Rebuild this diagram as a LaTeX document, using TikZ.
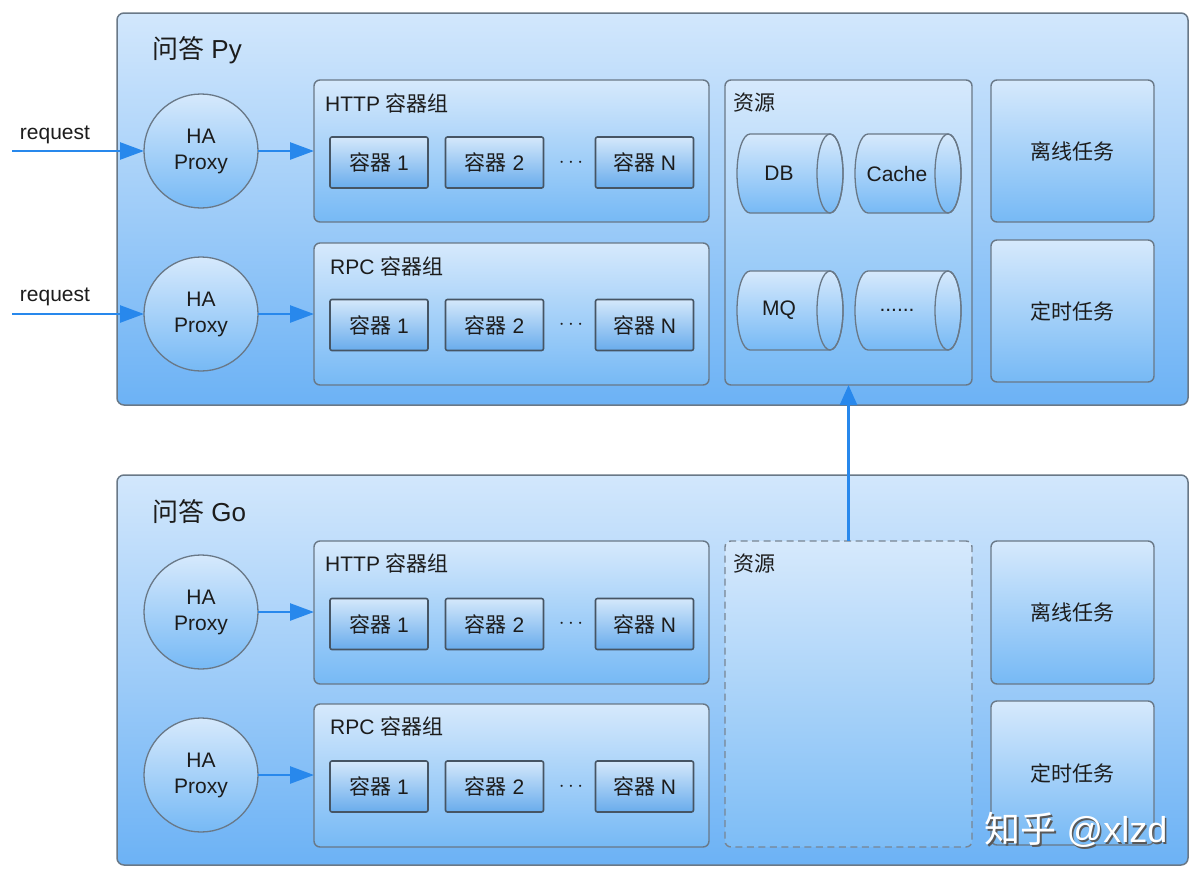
\documentclass[tikz,border=0pt]{standalone}
\usepackage{fontspec}
\setmainfont{Liberation Sans}
\newfontfamily\cjk{Noto Sans CJK SC}
\usetikzlibrary{arrows.meta,shapes.geometric}
\definecolor{boxtop}{RGB}{210,231,252}
\definecolor{boxbot}{RGB}{108,178,245}
\definecolor{grptop}{RGB}{214,233,252}
\definecolor{grpbot}{RGB}{118,185,245}
\definecolor{ctrtop}{RGB}{212,232,251}
\definecolor{ctrbot}{RGB}{105,172,236}
\definecolor{bordc}{RGB}{105,120,135}
\definecolor{bordd}{RGB}{70,85,100}
\definecolor{txtc}{RGB}{28,28,28}
\definecolor{arrc}{RGB}{40,136,236}
\newcommand\zh[1]{{\cjk #1}}
\newcommand\fsz[1]{\fontsize{#1}{26}\selectfont}
\newcommand\cyl[4]{%
  \path[draw=bordc,line width=1.3pt,top color=grptop,bottom color=grpbot]
    (#2-40,#3-39.5) -- (#2+40,#3-39.5)
    arc[start angle=-90,end angle=90,x radius=13,y radius=39.5]
    -- (#2-40,#3+39.5)
    arc[start angle=90,end angle=270,x radius=13,y radius=39.5] -- cycle;
  \draw[bordc,line width=1.3pt] (#2+40,#3) ellipse[x radius=13,y radius=39.5];
  \node[txt] (#1) at (#2-11,#3) {#4};
}
\begin{document}
\begin{tikzpicture}[x=1pt,y=-1pt,
  txt/.style={text=txtc,font=\fsz{21},inner sep=0pt},
  lbl/.style={txt,anchor=west},
  outer/.style={draw=bordc,line width=1.5pt,rounded corners=7pt,top color=boxtop,bottom color=boxbot,minimum width=1071pt,inner sep=0pt,outer sep=0pt},
  grp/.style={draw=bordc,line width=1.4pt,rounded corners=6pt,top color=grptop,bottom color=grpbot,minimum width=395pt,inner sep=0pt,outer sep=0pt},
  res/.style={grp,minimum width=247pt},
  task/.style={grp,minimum width=163pt,txt},
  ctr/.style={draw=bordd,line width=1.6pt,rounded corners=2pt,top color=ctrtop,bottom color=ctrbot,minimum width=98pt,minimum height=51pt,txt,outer sep=0pt},
  proxy/.style={circle,draw=bordc,line width=1.3pt,top color=grptop,bottom color=grpbot,minimum size=114pt,inner sep=0pt,outer sep=0pt,align=center,text=txtc,font=\fsz{21}},
  arr/.style={draw=arrc,line width=2.6pt,-{Triangle[length=24pt,width=17pt]}},
  dots/.style={txt}
]
\useasboundingbox (0,0) rectangle (1200,881);
\fill[white] (0,0) rectangle (1200,881);

% ---------- top panel ----------
\node[outer,minimum height=392pt] (py) at (652.5,209) {};
\node[txt,anchor=west,font=\fsz{26}] (pyt) at (152,50) {\zh{问答} Py};

\node[proxy] (hp1) at (201,151) {HA\\Proxy};
\node[proxy] (hp2) at (201,314) {HA\\Proxy};

\node[grp,minimum height=142pt] (http1) at (511.5,151) {};
\node[lbl] (http1l) at (325,103) {HTTP \zh{容器组}};
\node[ctr] (c11) at (379,162.5) {\zh{容器} 1};
\node[ctr] (c12) at (494.5,162.5) {\zh{容器} 2};
\node[dots] (d1) at (571,162.5) {$\cdots$};
\node[ctr] (c1n) at (644.5,162.5) {\zh{容器} N};

\node[grp,minimum height=142pt] (rpc1) at (511.5,314) {};
\node[lbl] (rpc1l) at (330,266) {RPC \zh{容器组}};
\node[ctr] (c21) at (379,325) {\zh{容器} 1};
\node[ctr] (c22) at (494.5,325) {\zh{容器} 2};
\node[dots] (d2) at (571,325) {$\cdots$};
\node[ctr] (c2n) at (644.5,325) {\zh{容器} N};

\node[res,minimum height=305pt] (res1) at (848.5,232.5) {};
\node[lbl] (res1l) at (733,103) {\zh{资源}};
\cyl{db}{790}{173.5}{DB}
\cyl{cache}{908}{173.5}{Cache}
\cyl{mq}{790}{310.5}{MQ}
\cyl{more}{908}{310.5}{......}

\node[task,minimum height=142pt] (off1) at (1072.5,151) {\zh{离线任务}};
\node[task,minimum height=142pt] (tim1) at (1072.5,311) {\zh{定时任务}};

\coordinate (r1) at (12,151);
\coordinate (r2) at (12,314);
\node[txt] (r1l) at (55,135) {request};
\node[txt] (r2l) at (55,297) {request};
\draw[arr] (r1) -- (hp1.west);
\draw[arr] (r2) -- (hp2.west);
\draw[arr] (hp1.east) -- (http1.west |- hp1.east);
\draw[arr] (hp2.east) -- (rpc1.west |- hp2.east);

% ---------- bottom panel ----------
\node[outer,minimum height=390pt] (go) at (652.5,670) {};
\node[txt,anchor=west,font=\fsz{26}] (got) at (152,512) {\zh{问答} Go};

\node[proxy] (hp3) at (201,612) {HA\\Proxy};
\node[proxy] (hp4) at (201,775) {HA\\Proxy};

\node[grp,minimum height=143pt] (http2) at (511.5,612.5) {};
\node[lbl] (http2l) at (325,563) {HTTP \zh{容器组}};
\node[ctr] (c31) at (379,624) {\zh{容器} 1};
\node[ctr] (c32) at (494.5,624) {\zh{容器} 2};
\node[dots] (d3) at (571,624) {$\cdots$};
\node[ctr] (c3n) at (644.5,624) {\zh{容器} N};

\node[grp,minimum height=143pt] (rpc2) at (511.5,775.5) {};
\node[lbl] (rpc2l) at (330,726) {RPC \zh{容器组}};
\node[ctr] (c41) at (379,786.5) {\zh{容器} 1};
\node[ctr] (c42) at (494.5,786.5) {\zh{容器} 2};
\node[dots] (d4) at (571,786.5) {$\cdots$};
\node[ctr] (c4n) at (644.5,786.5) {\zh{容器} N};

\node[res,minimum height=306pt,dash pattern=on 7pt off 4.5pt,draw=bordc!90,top color=grptop,bottom color=grpbot!95] (res2) at (848.5,694) {};
\node[lbl] (res2l) at (733,564) {\zh{资源}};

\node[task,minimum height=143pt] (off2) at (1072.5,612.5) {\zh{离线任务}};
\node[task,minimum height=144pt] (tim2) at (1072.5,773) {\zh{定时任务}};

\draw[arr] (hp3.east) -- (http2.west |- hp3.east);
\draw[arr] (hp4.east) -- (rpc2.west |- hp4.east);
\draw[arr,-{Triangle[length=20pt,width=17pt]}] (res2.north) -- (res1.south);

% watermark
\node[font=\fsz{36},text=black!65,inner sep=0pt] (wms) at (1077.5,831.5) {\zh{知乎} @xlzd};
\node[font=\fsz{36},text=white,inner sep=0pt] (wm) at (1076,830) {\zh{知乎} @xlzd};
\end{tikzpicture}
\end{document}
